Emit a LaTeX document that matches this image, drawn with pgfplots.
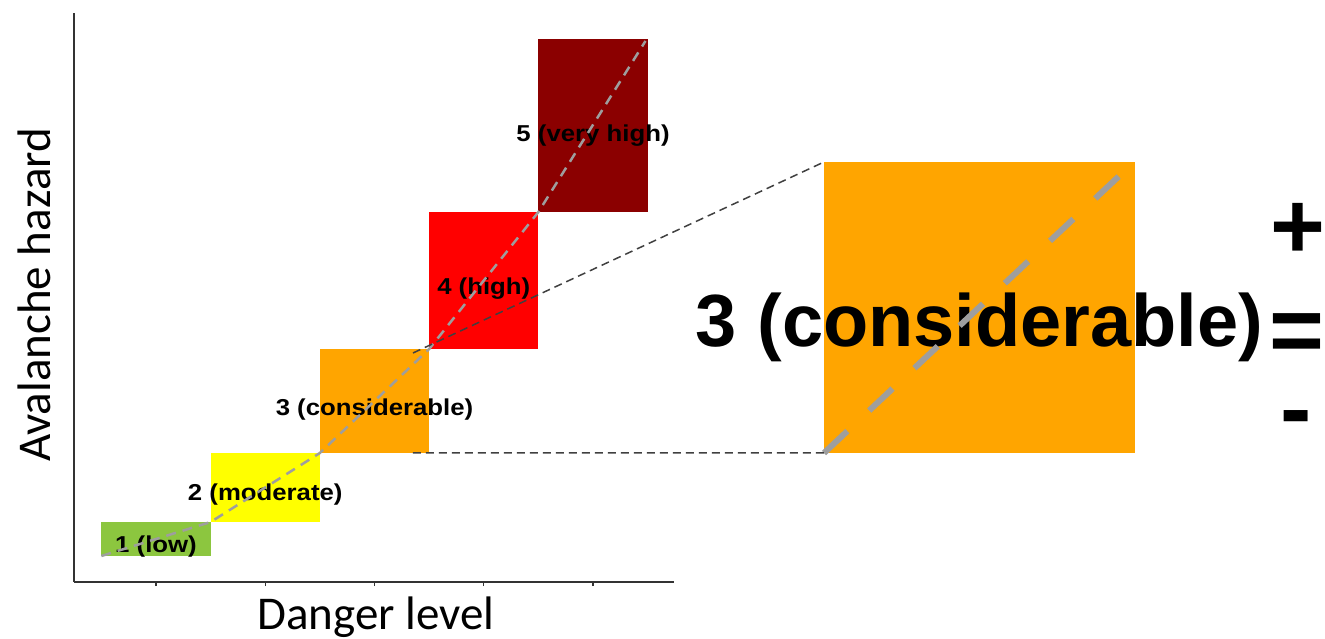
\documentclass[border=0pt]{standalone}
\usepackage{fontspec}
\setmainfont{Liberation Sans}
\newfontfamily\carlito{Carlito}
\usepackage{pgfplots}
\pgfplotsset{compat=1.18}
\definecolor{dlgreen}{RGB}{140,198,63}
\definecolor{dlyellow}{RGB}{255,255,0}
\definecolor{dlorange}{RGB}{255,165,0}
\definecolor{dlred}{RGB}{255,0,0}
\definecolor{dldark}{RGB}{139,0,0}
\definecolor{lgray}{RGB}{158,158,158}
\definecolor{axgray}{RGB}{51,51,51}
\definecolor{zgray}{RGB}{64,64,64}
\newcommand\lab[1]{\scalebox{1.12}[1]{\fontsize{23bp}{27bp}\selectfont\bfseries #1}}
\begin{document}
\begin{tikzpicture}
\useasboundingbox (0,0) rectangle (1325bp,639bp);
\begin{axis}[name=main, at={(74bp,57bp)}, anchor=south west, scale only axis,
  width=600bp, height=569bp,
  xmin=0.2494, xmax=5.741, ymin=0, ymax=5.69,
  axis lines*=left, axis line style={axgray, line width=1.8bp},
  xtick={1,2,3,4,5}, xticklabels={}, ytick=\empty,
  tick align=outside, major tick length=4bp, tick style={axgray, line width=1.2bp},
  xlabel={\carlito\fontsize{47bp}{52bp}\selectfont Danger level},
  xlabel style={at={(axis description cs:0.503,0)}, anchor=base, yshift=-47bp, inner sep=0pt},
  ylabel={\carlito\fontsize{47bp}{52bp}\selectfont Avalanche hazard},
  ylabel style={at={(axis description cs:-0.04,0.5044)}, anchor=base, inner sep=0pt},
]
\addplot[fill=dlgreen, draw=none, mark=none] coordinates {(0.5,0.26) (1.5,0.26) (1.5,0.60) (0.5,0.60)};
\addplot[fill=dlyellow, draw=none, mark=none] coordinates {(1.5,0.60) (2.5,0.60) (2.5,1.29) (1.5,1.29)};
\addplot[fill=dlorange, draw=none, mark=none] coordinates {(2.5,1.29) (3.5,1.29) (3.5,2.33) (2.5,2.33)};
\addplot[fill=dlred, draw=none, mark=none] coordinates {(3.5,2.33) (4.5,2.33) (4.5,3.70) (3.5,3.70)};
\addplot[fill=dldark, draw=none, mark=none] coordinates {(4.5,3.70) (5.5,3.70) (5.5,5.43) (4.5,5.43)};
\node[anchor=base, inner sep=0pt] at (axis cs:1,0.30) {\lab{1 (low)}};
\node[anchor=base, inner sep=0pt] at (axis cs:2,0.81) {\lab{2 (moderate)}};
\node[anchor=base, inner sep=0pt] at (axis cs:3,1.66) {\lab{3 (considerable)}};
\node[anchor=base, inner sep=0pt] at (axis cs:4,2.87) {\lab{4 (high)}};
\node[anchor=base, inner sep=0pt] at (axis cs:5,4.40) {\lab{5 (very high)}};
\addplot[lgray, line width=2.5bp, dash pattern=on 10bp off 7bp, mark=none]
  coordinates {(0.5,0.26) (1.5,0.60) (2.5,1.29) (3.5,2.33) (4.5,3.70) (5.48,5.41)};
\coordinate (zt) at (axis cs:3.352,2.29);
\coordinate (zb) at (axis cs:3.352,1.29);
\end{axis}
\begin{axis}[name=inset, at={(824bp,186bp)}, anchor=south west, scale only axis,
  width=311bp, height=291bp, xmin=2.5, xmax=3.5, ymin=1.29, ymax=2.33,
  hide axis, clip=false]
\addplot[fill=dlorange, draw=none, mark=none] coordinates {(2.5,1.29) (3.5,1.29) (3.5,2.33) (2.5,2.33)};
\node[anchor=base, inner sep=0pt, font={\fontsize{74bp}{80bp}\selectfont\bfseries}] at (axis cs:3.0,1.669) {3 (considerable)};
\addplot[lgray, line width=6bp, dash pattern=on 32bp off 30bp, mark=none]
  coordinates {(2.5,1.29) (3.477,2.309)};
\end{axis}
\draw[zgray, line width=1.5bp, dash pattern=on 8bp off 5bp] (zt) -- (inset.north west);
\draw[zgray, line width=1.5bp, dash pattern=on 8bp off 5bp] (zb) -- (inset.south west);
\node[anchor=base, inner sep=0pt, font={\fontsize{94bp}{100bp}\selectfont\bfseries}] at (1298bp,380bp) {+};
\node[anchor=base, inner sep=0pt, font={\fontsize{94bp}{100bp}\selectfont\bfseries}] at (1297bp,276bp) {=};
\node[anchor=base, inner sep=0pt, font={\fontsize{94bp}{100bp}\selectfont\bfseries}] at (1296bp,198bp) {-};
\end{tikzpicture}
\end{document}
